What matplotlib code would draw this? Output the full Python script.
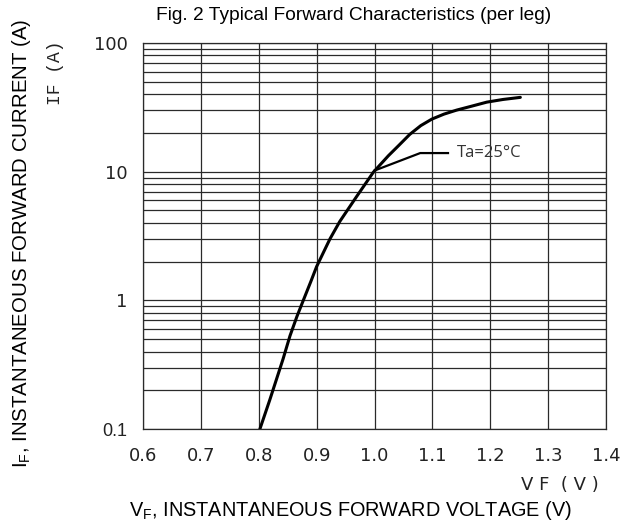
import matplotlib
matplotlib.use("Agg")
import matplotlib.pyplot as plt
from matplotlib.ticker import FixedLocator, LogLocator, NullFormatter

# values (Ta = 25 C)
vf = [0.802, 0.819, 0.834, 0.842, 0.854, 0.866, 0.877, 0.890, 0.900, 0.923,
      0.940, 0.969, 0.998, 1.024, 1.042, 1.061, 1.080, 1.099, 1.120, 1.142,
      1.168, 1.194, 1.222, 1.252]
i_f = [0.1, 0.168, 0.271, 0.35, 0.53, 0.75, 1.0, 1.4, 1.83, 3.0,
       4.1, 6.4, 9.9, 13.3, 16.0, 19.5, 22.8, 25.6, 28.0, 30.1,
       32.3, 34.7, 36.4, 37.8]

x_ticks = [0.6, 0.7, 0.8, 0.9, 1.0, 1.1, 1.2, 1.3, 1.4]
x_labels = ['0.6', '0.7', '0.8', '0.9', '1.0', '1.1', '1.2', '1.3', '1.4']
y_ticks = [0.1, 1, 10, 100]
y_labels = ['0.1', '1', '10', '100']

fig = plt.figure(figsize=(6.28, 5.26), dpi=100)
ax = fig.add_axes([143 / 628, 1 - 429 / 526, (606 - 143) / 628, (429 - 43) / 526])

ax.set_yscale('log')
ax.set_xlim(0.6, 1.4)
ax.set_ylim(0.1, 100)

grid_col = '#2a2a2a'
ax.xaxis.set_major_locator(FixedLocator(x_ticks))
ax.yaxis.set_major_locator(FixedLocator(y_ticks))
ax.yaxis.set_minor_locator(LogLocator(base=10, subs=range(2, 10)))
ax.yaxis.set_minor_formatter(NullFormatter())
ax.set_xticklabels(x_labels)
ax.set_yticklabels(y_labels)
ax.grid(True, which='major', color=grid_col, lw=0.9)
ax.grid(True, which='minor', axis='y', color=grid_col, lw=0.9)
ax.tick_params(which='both', length=0)
ax.tick_params(axis='x', labelsize=13, pad=13, colors='#222')
ax.tick_params(axis='y', labelsize=13, pad=11, colors='#222')
for s in ax.spines.values():
    s.set_color(grid_col)
    s.set_linewidth(0.9)

# bottom y label uses a plainer font in the original
for lab in ax.get_yticklabels():
    if lab.get_text() == '0.1':
        lab.set_family('Liberation Sans')

ax.plot(vf, i_f, color='black', lw=2.2, solid_capstyle='round',
        solid_joinstyle='round', zorder=3)

# Ta label with bent leader line
ax.plot([1.0, 1.079, 1.127], [10.2, 13.95, 13.95], color='black', lw=1.6, zorder=3)
ax.text(1.142, 13.95, 'Ta=25°C', fontsize=12, family='Open Sans', color='#333',
        va='center', ha='left')

fig.text(354 / 628, 1 - 15 / 526, 'Fig. 2 Typical Forward Characteristics (per leg)',
         ha='center', va='center', fontsize=13.8, family='Liberation Sans')
fig.text(22 / 628, 1 - 243 / 526, r'I$_\mathregular{F}$, INSTANTANEOUS FORWARD CURRENT (A)',
         ha='center', va='center', rotation=90, fontsize=14.7, family='Liberation Sans')
fig.text(350 / 628, 1 - 511 / 526, r'V$_\mathregular{F}$, INSTANTANEOUS FORWARD VOLTAGE (V)',
         ha='center', va='center', fontsize=14.3, family='Liberation Sans')
fig.text(560 / 628, 1 - 485 / 526, 'V F  ( V )', ha='center', va='center',
         fontsize=13, color='#222')
fig.text(56 / 628, 1 - 73 / 526, 'IF (A)', ha='center', va='center', rotation=90,
         fontsize=13, family='Liberation Mono', color='#222')

fig.savefig('out.png', dpi=100)
